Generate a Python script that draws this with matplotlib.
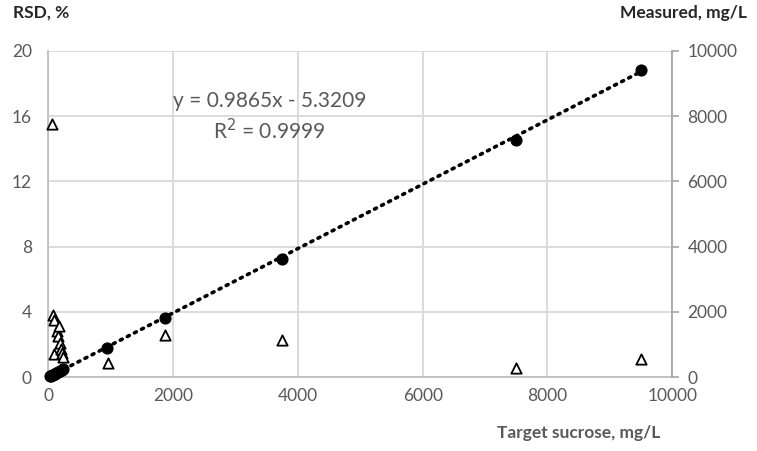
import matplotlib
matplotlib.use("Agg")
import matplotlib.pyplot as plt
import numpy as np

plt.rcParams['font.family'] = ['Lato', 'DejaVu Sans']

# Measured sucrose (right axis) vs target
target_meas = [20, 40, 60, 80, 100, 120, 150, 180, 210, 240, 937.5, 1875, 3750, 7500, 9500]
measured = [18, 38, 57, 77, 96, 116, 146, 176, 205, 235, 880, 1810, 3620, 7280, 9420]

# RSD (left axis) vs target
target_rsd = [62, 78, 93, 93, 132, 156, 171, 179, 202, 210, 226, 950, 1875, 3750, 7500, 9500]
rsd = [15.5, 3.8, 3.5, 1.4, 2.8, 2.5, 3.1, 2.1, 1.75, 1.5, 1.25, 0.85, 2.55, 2.25, 0.55, 1.1]

slope = 0.9865
intercept = -5.3209
eq_text = "y = 0.9865x - 5.3209"
r2_text = "R$^2$ = 0.9999"

x_ticks = [0, 2000, 4000, 6000, 8000, 10000]
left_ticks = [0, 4, 8, 12, 16, 20]
right_ticks = [0, 2000, 4000, 6000, 8000, 10000]

gray_txt = '#595959'
grid_c = '#d9d9d9'

fig = plt.figure(figsize=(7.57, 4.51), dpi=100)
ax = fig.add_axes([0.064, 0.164, 0.824, 0.723])
ax2 = ax.twinx()

ax.set_xlim(0, 10000)
ax.set_ylim(0, 20)
ax2.set_ylim(0, 10000)
ax.set_xticks(x_ticks)
ax.set_yticks(left_ticks)
ax2.set_yticks(right_ticks)

ax.grid(True, color=grid_c, linewidth=1.3)
ax.set_axisbelow(True)

for a in (ax, ax2):
    for s in a.spines.values():
        s.set_visible(False)
ax.spines['left'].set_visible(True)
ax.spines['left'].set_color('#bfbfbf')
ax.spines['left'].set_linewidth(1.3)
ax.spines['bottom'].set_visible(True)
ax.spines['bottom'].set_color('#bfbfbf')
ax.spines['bottom'].set_linewidth(1.3)
ax2.spines['right'].set_visible(True)
ax2.spines['right'].set_color('#a6a6a6')
ax2.spines['right'].set_linewidth(1.3)

ax.tick_params(axis='both', length=0, labelsize=12.5, labelcolor=gray_txt, pad=8)
ax.tick_params(axis='y', pad=12)
ax2.tick_params(axis='y', length=5, width=1.2, color='#a6a6a6', direction='out',
                labelsize=12.5, labelcolor=gray_txt, pad=6)

ax.scatter(target_rsd, rsd, marker='^', s=55, facecolors='white', edgecolors='black',
           linewidths=1.3, zorder=3, clip_on=False)

xl = np.linspace(min(target_meas), max(target_meas), 200)
ax2.plot(xl, slope * xl + intercept, linestyle=(0, (0.6, 1.6)), color='black',
         linewidth=2.6, dash_capstyle='round', zorder=2)
ax2.scatter(target_meas, measured, marker='o', s=60, color='black', zorder=4, clip_on=False)

ax.text(3540, 16.95, eq_text, ha='center', va='center', fontsize=15, color=gray_txt, zorder=5)
ax.text(3540, 15.1, r2_text, ha='center', va='center', fontsize=15, color=gray_txt, zorder=5)

fig.text(13 / 757, 1 - 13 / 451, "RSD, %", ha='left', va='center', fontsize=12.5,
         fontweight='bold', color='#262626')
fig.text(747 / 757, 1 - 13 / 451, "Measured, mg/L", ha='right', va='center', fontsize=12.5,
         fontweight='bold', color='#262626')
fig.text(660 / 757, 1 - 433 / 451, "Target sucrose, mg/L", ha='right', va='center', fontsize=12.5,
         fontweight='bold', color=gray_txt)

fig.savefig('out.png', dpi=100)
